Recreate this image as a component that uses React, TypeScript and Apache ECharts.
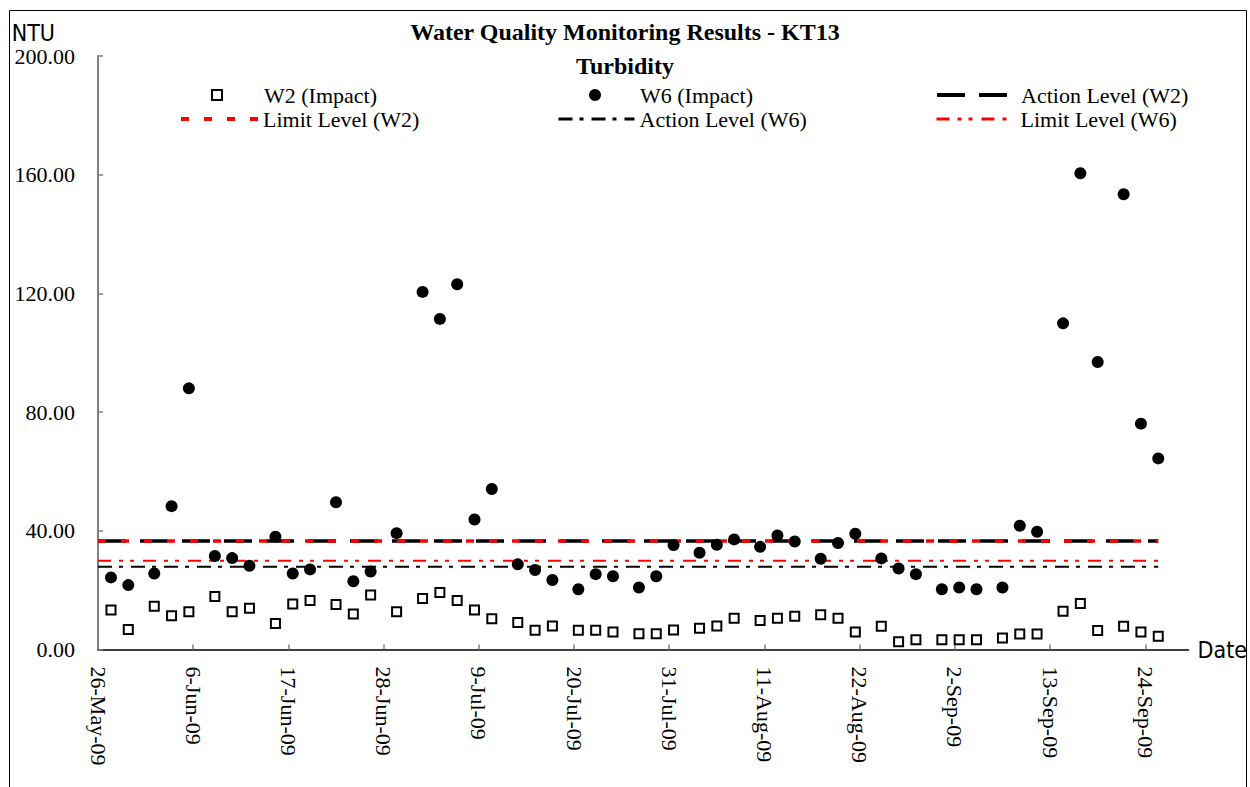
import React, { useEffect, useRef } from "react";
import * as echarts from "echarts";

// ---------- data ----------
const SAMPLE_DATES = [
  "2009-05-27", "2009-05-29", "2009-06-01", "2009-06-03", "2009-06-05",
  "2009-06-08", "2009-06-10", "2009-06-12", "2009-06-15", "2009-06-17",
  "2009-06-19", "2009-06-22", "2009-06-24", "2009-06-26", "2009-06-29",
  "2009-07-02", "2009-07-04", "2009-07-06", "2009-07-08", "2009-07-10",
  "2009-07-13", "2009-07-15", "2009-07-17", "2009-07-20", "2009-07-22",
  "2009-07-24", "2009-07-27", "2009-07-29", "2009-07-31", "2009-08-03",
  "2009-08-05", "2009-08-07", "2009-08-10", "2009-08-12", "2009-08-14",
  "2009-08-17", "2009-08-19", "2009-08-21", "2009-08-24", "2009-08-26",
  "2009-08-28", "2009-08-31", "2009-09-02", "2009-09-04", "2009-09-07",
  "2009-09-09", "2009-09-11", "2009-09-14", "2009-09-16", "2009-09-18",
  "2009-09-21", "2009-09-23", "2009-09-25",
];

const W2_IMPACT = [
  13.3, 6.7, 14.6, 11.4, 12.7, 17.9, 12.7, 13.9, 8.8, 15.3,
  16.5, 15.2, 12.0, 18.4, 12.7, 17.2, 19.2, 16.5, 13.3, 10.4,
  9.1, 6.5, 7.9, 6.5, 6.5, 5.9, 5.3, 5.3, 6.6, 7.2,
  7.9, 10.5, 9.8, 10.5, 11.2, 11.7, 10.5, 5.9, 7.8, 2.6,
  3.3, 3.3, 3.3, 3.3, 3.9, 5.2, 5.2, 12.9, 15.5, 6.4,
  7.8, 5.9, 4.5,
];

const W6_IMPACT = [
  24.3, 21.7, 25.6, 48.3, 88.0, 31.5, 30.8, 28.2, 38.0, 25.6,
  27.0, 49.6, 23.0, 26.3, 39.2, 120.5, 111.4, 123.1, 43.8, 54.1,
  28.7, 26.8, 23.4, 20.3, 25.4, 24.7, 20.9, 24.7, 35.2, 32.6,
  35.3, 37.1, 34.6, 38.4, 36.4, 30.6, 35.9, 39.0, 30.7, 27.3,
  25.4, 20.3, 20.9, 20.3, 20.9, 41.7, 39.7, 109.9, 160.5, 96.9,
  153.4, 76.1, 64.4,
];

const ACTION_LEVEL_W2 = [36.6, 36.6];
const LIMIT_LEVEL_W2 = [36.6, 36.6];
const ACTION_LEVEL_W6 = [27.9, 27.9];
const LIMIT_LEVEL_W6 = [29.9, 29.9];
const LEVEL_DATES = ["2009-05-26", "2009-09-25"];

const X_TICK_DATES = [
  "2009-05-26", "2009-06-06", "2009-06-17", "2009-06-28", "2009-07-09",
  "2009-07-20", "2009-07-31", "2009-08-11", "2009-08-22", "2009-09-02",
  "2009-09-13", "2009-09-24",
];
const X_AXIS_START = "2009-05-26";
const X_AXIS_END = "2009-09-29";
const Y_MIN = 0;
const Y_MAX = 200;
const Y_STEP = 40;

// ---------- helpers ----------
const DAY = 86400000;
const MONTHS = ["Jan", "Feb", "Mar", "Apr", "May", "Jun", "Jul", "Aug", "Sep", "Oct", "Nov", "Dec"];
const ORIGIN = Date.parse(X_AXIS_START + "T00:00:00Z");
const dayIndex = (s: string) => (Date.parse(s + "T00:00:00Z") - ORIGIN) / DAY;
// Excel's date axis places each daily value in the middle of its day slot
const dayCentre = (s: string) => dayIndex(s) + 0.5;
const fmtDay = (d: number) => {
  const t = new Date(ORIGIN + Math.round(d) * DAY);
  return `${t.getUTCDate()}-${MONTHS[t.getUTCMonth()]}-${String(t.getUTCFullYear()).slice(2)}`;
};

const SERIF = "'Liberation Serif', 'Times New Roman', serif";
const NARROW = "'Liberation Sans Narrow', 'DejaVu Sans Condensed', 'Arial Narrow', sans-serif";

const levelData = (vals: number[]) => [
  [dayIndex(LEVEL_DATES[0]), vals[0]],
  [dayCentre(LEVEL_DATES[1]), vals[1]],
];

const legendText = { fontFamily: SERIF, fontSize: 22, color: "#000", lineHeight: 22 };

export default function App() {
  const ref = useRef<HTMLDivElement>(null);

  useEffect(() => {
    if (!ref.current) return;
    const chart = echarts.init(ref.current, undefined, { renderer: "svg" });
    const tickDays = X_TICK_DATES.map(dayIndex);

    const lineLegend = (name: string, left: number, top: number, width: number, lw: number, pad = 0) => ({
      data: [name],
      left,
      top,
      padding: 0,
      itemWidth: width,
      itemHeight: 10,
      selectedMode: false,
      itemStyle: { opacity: 0 },
      lineStyle: { width: lw },
      textStyle: { ...legendText, padding: [0, 0, 0, pad] },
    });

    chart.setOption({
      animation: false,
      backgroundColor: "#fff",
      title: [
        {
          text: "Water Quality Monitoring Results - KT13",
          left: "center",
          top: 20,
          padding: 0,
          textStyle: { fontFamily: SERIF, fontSize: 24, fontWeight: "bold", color: "#000" },
        },
        {
          text: "Turbidity",
          left: "center",
          top: 54,
          padding: 0,
          textStyle: { fontFamily: SERIF, fontSize: 24, fontWeight: "bold", color: "#000" },
        },
      ],
      legend: [
        {
          data: ["W2 (Impact)"],
          left: 211,
          top: 84,
          padding: 0,
          itemWidth: 10,
          itemHeight: 10,
          selectedMode: false,
          itemStyle: { color: "#fff", borderColor: "#000", borderWidth: 2 },
          textStyle: { ...legendText, padding: [0, 0, 0, 37] },
        },
        {
          data: ["W6 (Impact)"],
          left: 589,
          top: 84,
          padding: 0,
          itemWidth: 12,
          itemHeight: 12,
          selectedMode: false,
          textStyle: { ...legendText, padding: [0, 0, 0, 34] },
        },
        lineLegend("Action Level (W2)", 935, 84, 70, 4, 9),
        lineLegend("Limit Level (W2)", 179, 108, 77, 4),
        lineLegend("Action Level (W6)", 557, 108, 76, 3),
        lineLegend("Limit Level (W6)", 935, 108, 70, 3, 9),
      ],
      grid: { left: 98, right: 61, top: 56, bottom: 137.5, containLabel: false },
      xAxis: {
        type: "value",
        min: dayIndex(X_AXIS_START),
        max: dayIndex(X_AXIS_END),
        interval: 11,
        name: "Date",
        nameLocation: "end",
        nameGap: 9,
        nameTextStyle: {
          fontFamily: NARROW,
          fontSize: 23,
          color: "#000",
          verticalAlign: "middle",
          padding: [0, 0, 12, 0],
        },
        axisLine: { show: true, onZero: false, lineStyle: { color: "#000", width: 1.5 } },
        axisTick: { show: true, inside: true, length: 5, customValues: tickDays, lineStyle: { color: "#808080", width: 1.5 } },
        axisLabel: {
          customValues: tickDays,
          rotate: -90,
          margin: 17,
          padding: [0, 0, 10, 0],
          fontFamily: SERIF,
          fontSize: 22,
          color: "#000",
          formatter: (v: number) => fmtDay(v),
        },
        splitLine: { show: false },
      },
      yAxis: {
        type: "value",
        min: Y_MIN,
        max: Y_MAX,
        interval: Y_STEP,
        name: "NTU",
        nameLocation: "end",
        nameGap: 12,
        nameTextStyle: {
          fontFamily: NARROW,
          fontSize: 23,
          color: "#000",
          align: "right",
          verticalAlign: "bottom",
          padding: [0, 43, 0, 0],
        },
        axisLine: { show: true, lineStyle: { color: "#808080", width: 2 } },
        axisTick: { show: true, inside: true, length: 5, lineStyle: { color: "#808080", width: 1.5 } },
        axisLabel: {
          margin: 23,
          fontFamily: SERIF,
          fontSize: 22,
          color: "#000",
          formatter: (v: number) => v.toFixed(2),
        },
        splitLine: { show: false },
      },
      series: [
        {
          name: "Action Level (W2)",
          type: "line",
          symbol: "none",
          z: 2,
          lineStyle: { color: "#000", width: 3.5, type: [28, 14] },
          data: levelData(ACTION_LEVEL_W2),
        },
        {
          name: "Limit Level (W2)",
          type: "line",
          symbol: "none",
          z: 3,
          lineStyle: { color: "#ff0000", width: 3.5, type: [8, 15] },
          data: levelData(LIMIT_LEVEL_W2),
        },
        {
          name: "Action Level (W6)",
          type: "line",
          symbol: "none",
          z: 2,
          lineStyle: { color: "#000", width: 2, type: [14, 7, 4, 8] },
          data: levelData(ACTION_LEVEL_W6),
        },
        {
          name: "Limit Level (W6)",
          type: "line",
          symbol: "none",
          z: 2,
          lineStyle: { color: "#ff0000", width: 2, type: [13, 8, 4, 7, 4, 9] },
          data: levelData(LIMIT_LEVEL_W6),
        },
        {
          name: "W2 (Impact)",
          type: "scatter",
          symbol: "rect",
          symbolSize: 9,
          z: 5,
          itemStyle: { color: "#fff", borderColor: "#000", borderWidth: 2, opacity: 1 },
          data: SAMPLE_DATES.map((d, i) => [dayCentre(d), W2_IMPACT[i]]),
        },
        {
          name: "W6 (Impact)",
          type: "scatter",
          symbol: "circle",
          symbolSize: 12,
          z: 6,
          itemStyle: { color: "#000", opacity: 1 },
          data: SAMPLE_DATES.map((d, i) => [dayCentre(d), W6_IMPACT[i]]),
        },
      ],
      graphic: [
        {
          type: "rect",
          silent: true,
          z: 100,
          shape: { x: 9.5, y: 10.5, width: 1237, height: 800 },
          style: { fill: "none", stroke: "#000", lineWidth: 1 },
        },
      ],
    });

    return () => chart.dispose();
  }, []);

  return (
    <div
      ref={ref}
      style={{ position: "fixed", left: 0, top: 0, width: 1250, height: 787, background: "#fff" }}
    />
  );
}
